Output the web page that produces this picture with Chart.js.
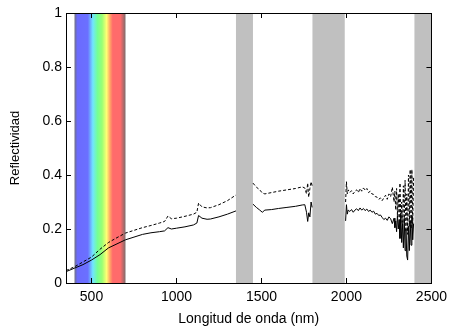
<!DOCTYPE html>
<html>
<head>
<meta charset="utf-8">
<script src="https://cdn.jsdelivr.net/npm/chart.js@4/dist/chart.umd.min.js"></script>
<style>
  html, body { margin: 0; padding: 0; background: #fff; }
  canvas { display: block; }
</style>
</head>
<body>
<canvas id="spectrumChart" width="453" height="328"></canvas>
<script>
const WAVELENGTHS = [
  350, 400, 450, 500, 550, 600, 650, 700, 750, 800, 850, 900, 930, 950, 970,
  1000, 1050, 1100, 1120, 1130, 1150, 1180, 1200, 1250, 1300, 1350,
  1400,
  1450, 1470, 1490, 1505, 1520, 1560, 1600, 1650, 1700, 1740, 1755, 1765,
  1772, 1778, 1785, 1792, 1798,
  1900,
  1995, 2000, 2005, 2010, 2020, 2030, 2040, 2050, 2060, 2070, 2080, 2090,
  2100, 2110, 2120, 2130, 2140, 2150, 2160, 2170, 2180, 2190, 2200, 2210,
  2220, 2230, 2240, 2250, 2260, 2270, 2280, 2285, 2290, 2295, 2300, 2305,
  2310, 2315, 2320, 2325, 2330, 2335, 2340, 2345, 2350, 2355, 2360, 2365,
  2370, 2375, 2380, 2385, 2390, 2395,
];

// solid line
const SOLID = [
  0.042, 0.055, 0.068, 0.085, 0.105, 0.13, 0.145, 0.16, 0.17, 0.18, 0.186,
  0.19, 0.193, 0.205, 0.2, 0.203, 0.208, 0.215, 0.222, 0.25, 0.24, 0.236,
  0.237, 0.245, 0.255, 0.267,
  null,
  0.292, 0.28, 0.27, 0.262, 0.27, 0.272, 0.276, 0.28, 0.284, 0.289, 0.29,
  0.262, 0.228, 0.26, 0.245, 0.3, 0.28,
  null,
  0.23, 0.29, 0.255, 0.27, 0.265, 0.272, 0.262, 0.27, 0.275, 0.268, 0.278,
  0.27, 0.276, 0.268, 0.274, 0.265, 0.27, 0.262, 0.266, 0.255, 0.258, 0.25,
  0.252, 0.243, 0.235, 0.24, 0.232, 0.245, 0.238, 0.22, 0.24, 0.205, 0.23,
  0.19, 0.25, 0.2, 0.235, 0.165, 0.26, 0.15, 0.22, 0.13, 0.24, 0.12, 0.2,
  0.1, 0.085, 0.21, 0.12, 0.23, 0.14, 0.25, 0.16, 0.22,
];

// dashed line
const DASHED = [
  0.046, 0.06, 0.078, 0.096, 0.125, 0.15, 0.168, 0.185, 0.195, 0.205, 0.213,
  0.222, 0.228, 0.248, 0.238, 0.24, 0.247, 0.255, 0.262, 0.296, 0.282, 0.278,
  0.279, 0.29, 0.305, 0.326,
  null,
  0.37, 0.355, 0.345, 0.333, 0.33, 0.335, 0.34, 0.345, 0.35, 0.356, 0.352,
  0.33, 0.37, 0.318, 0.35, 0.375, 0.36,
  null,
  0.3, 0.375, 0.33, 0.345, 0.335, 0.342, 0.33, 0.34, 0.345, 0.335, 0.35,
  0.34, 0.352, 0.343, 0.35, 0.335, 0.34, 0.33, 0.328, 0.32, 0.318, 0.31,
  0.315, 0.305, 0.315, 0.325, 0.31, 0.33, 0.32, 0.355, 0.3, 0.34, 0.27,
  0.35, 0.25, 0.33, 0.24, 0.37, 0.22, 0.3, 0.2, 0.36, 0.22, 0.38, 0.19,
  0.33, 0.18, 0.4, 0.21, 0.42, 0.2, 0.42, 0.22, 0.39,
];

const X_TICKS = [500, 1000, 1500, 2000, 2500];
const Y_TICKS = [0, 0.2, 0.4, 0.6, 0.8, 1];

// absorption bands (nm) shaded in grey, and the visible range
const GREY_BANDS = [[1350, 1450], [1800, 1990], [2400, 2500]];
const VISIBLE_BAND = [400, 700];

const FONT = "'Liberation Sans', Arial, sans-serif";

const spectrumPlugin = {
  id: "spectrum",
  beforeDatasetsDraw(chart) {
    const { ctx, chartArea, scales } = chart;
    const x = scales.x;
    ctx.save();

    const x0 = x.getPixelForValue(VISIBLE_BAND[0]);
    const x1 = x.getPixelForValue(VISIBLE_BAND[1]);
    const grad = ctx.createLinearGradient(x0, 0, x1, 0);
    grad.addColorStop(0.0, "#6f6f86");
    grad.addColorStop(0.06, "#6b6bff");
    grad.addColorStop(0.26, "#6b70ff");
    grad.addColorStop(0.36, "#70e6ff");
    grad.addColorStop(0.45, "#74ff96");
    grad.addColorStop(0.54, "#9aff74");
    grad.addColorStop(0.63, "#ffff74");
    grad.addColorStop(0.7, "#ffa066");
    grad.addColorStop(0.75, "#ff6b6b");
    grad.addColorStop(0.9, "#ff6b6b");
    grad.addColorStop(1.0, "#7f6b6b");
    ctx.fillStyle = grad;
    ctx.fillRect(x0, chartArea.top, x1 - x0, chartArea.bottom - chartArea.top);

    ctx.fillStyle = "#c0c0c0";
    GREY_BANDS.forEach(([a, b]) => {
      const pa = x.getPixelForValue(a);
      const pb = x.getPixelForValue(b);
      ctx.fillRect(pa, chartArea.top, pb - pa, chartArea.bottom - chartArea.top);
    });
    ctx.restore();
  },
  afterDatasetsDraw(chart) {
    const { ctx, chartArea, scales } = chart;
    const { left, right, top, bottom } = chartArea;
    const len = 5;
    ctx.save();
    ctx.strokeStyle = "#000";
    ctx.lineWidth = 1;
    ctx.beginPath();
    X_TICKS.forEach((v) => {
      const px = Math.round(scales.x.getPixelForValue(v)) + 0.5;
      ctx.moveTo(px, bottom);
      ctx.lineTo(px, bottom - len);
      ctx.moveTo(px, top);
      ctx.lineTo(px, top + len);
    });
    Y_TICKS.forEach((v) => {
      const py = Math.round(scales.y.getPixelForValue(v)) + 0.5;
      ctx.moveTo(left, py);
      ctx.lineTo(left + len, py);
      ctx.moveTo(right, py);
      ctx.lineTo(right - len, py);
    });
    ctx.stroke();
    ctx.strokeRect(Math.round(left) + 0.5, Math.round(top) + 0.5,
      Math.round(right - left), Math.round(bottom - top));
    ctx.restore();
  },
};

Chart.defaults.font.family = FONT;
Chart.defaults.color = "#000";

new Chart(document.getElementById("spectrumChart"), {
  type: "line",
  data: {
    datasets: [
      {
        label: "solid",
        data: WAVELENGTHS.map((w, i) => ({ x: w, y: SOLID[i] })),
        borderColor: "#000",
        borderWidth: 1,
        pointRadius: 0,
        tension: 0,
        spanGaps: false,
      },
      {
        label: "dashed",
        data: WAVELENGTHS.map((w, i) => ({ x: w, y: DASHED[i] })),
        borderColor: "#000",
        borderWidth: 1,
        borderDash: [3, 2],
        pointRadius: 0,
        tension: 0,
        spanGaps: false,
      },
    ],
  },
  options: {
    responsive: false,
    animation: false,
    events: [],
    layout: { padding: { top: 13, right: 21, left: 0, bottom: 0 } },
    plugins: {
      legend: { display: false },
      tooltip: { enabled: false },
    },
    scales: {
      x: {
        type: "linear",
        min: 350,
        max: 2500,
        afterFit(scale) {
          scale.height = 45;
        },
        afterBuildTicks(scale) {
          scale.ticks = X_TICKS.map((v) => ({ value: v }));
        },
        grid: { display: false, drawTicks: false },
        border: { display: false },
        ticks: {
          padding: 6,
          font: { size: 14 },
          maxRotation: 0,
          autoSkip: false,
          callback: (v) => String(v),
        },
        title: {
          display: true,
          text: "Longitud de onda (nm)",
          font: { size: 14 },
          padding: { top: 0, bottom: 0 },
        },
      },
      y: {
        min: 0,
        max: 1,
        afterFit(scale) {
          scale.width = 66;
        },
        afterBuildTicks(scale) {
          scale.ticks = Y_TICKS.map((v) => ({ value: v }));
        },
        grid: { display: false, drawTicks: false },
        border: { display: false },
        ticks: {
          padding: 4,
          font: { size: 14 },
          callback: (v) => (v === 0 || v === 1 ? String(v) : v.toFixed(1)),
        },
        title: {
          display: true,
          text: "Reflectividad",
          font: { size: 13 },
          padding: { top: 8, bottom: 0 },
        },
      },
    },
  },
  plugins: [spectrumPlugin],
});
</script>
</body>
</html>
